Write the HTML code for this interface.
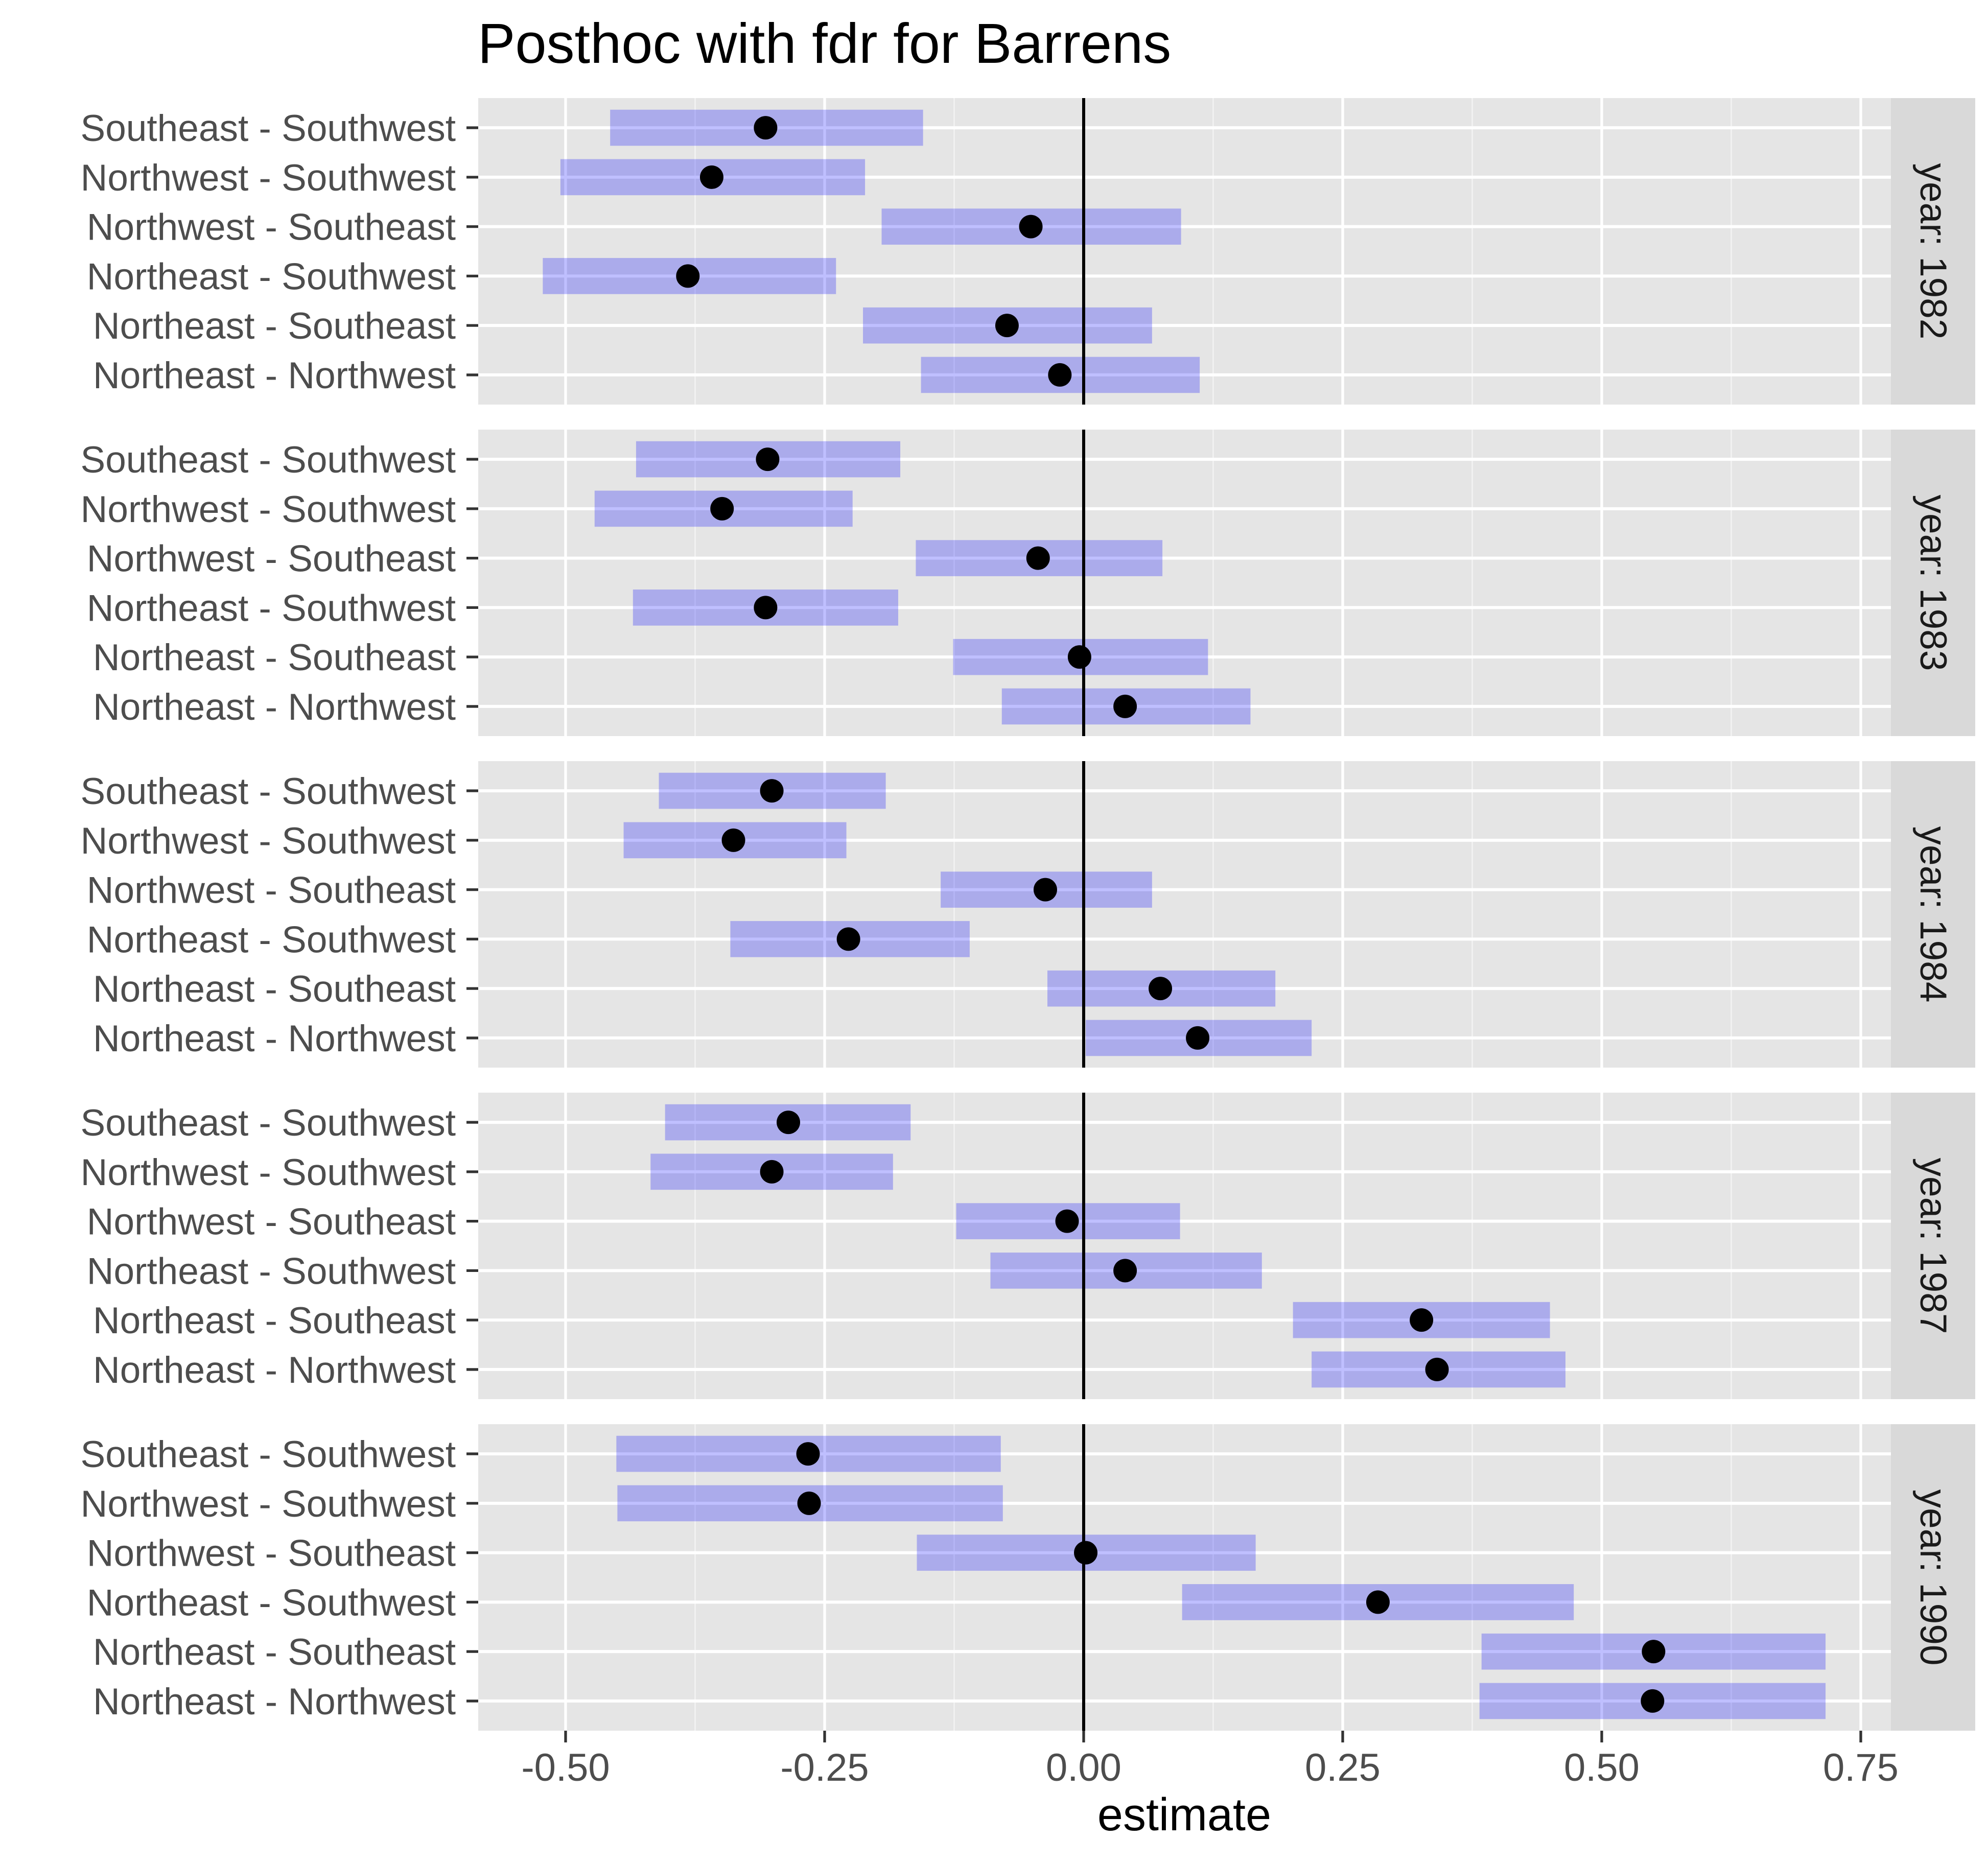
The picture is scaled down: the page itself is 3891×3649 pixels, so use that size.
<!DOCTYPE html>
<html><head><meta charset="utf-8"><style>
html,body{margin:0;padding:0;background:#fff}
svg{display:block;font-family:"Liberation Sans",Arial,sans-serif}
</style></head><body>
<svg id="chart" width="3891" height="3649" viewBox="0 0 3891 3649" xmlns="http://www.w3.org/2000/svg">
<rect width="3891" height="3649" fill="#fff"/>
<text x="935" y="123" font-size="110" fill="#000">Posthoc with fdr for Barrens</text>
<text x="2318" y="3583" font-size="90" fill="#000" text-anchor="middle">estimate</text>
</svg>
<script>
const years = ["1982","1983","1984","1987","1990"];
const comparisons = ["Southeast - Southwest","Northwest - Southwest","Northwest - Southeast","Northeast - Southwest","Northeast - Southeast","Northeast - Northwest"];
const est1982 = [-0.307,-0.359,-0.051,-0.382,-0.074,-0.023];
const lo1982 = [-0.457,-0.505,-0.195,-0.522,-0.213,-0.157];
const hi1982 = [-0.155,-0.211,0.094,-0.239,0.066,0.112];
const est1983 = [-0.305,-0.349,-0.044,-0.307,-0.004,0.040];
const lo1983 = [-0.432,-0.472,-0.162,-0.435,-0.126,-0.079];
const hi1983 = [-0.177,-0.223,0.076,-0.179,0.120,0.161];
const est1984 = [-0.301,-0.338,-0.037,-0.227,0.074,0.110];
const lo1984 = [-0.410,-0.444,-0.138,-0.341,-0.035,0.002];
const hi1984 = [-0.191,-0.229,0.066,-0.110,0.185,0.220];
const est1987 = [-0.285,-0.301,-0.016,0.040,0.326,0.341];
const lo1987 = [-0.404,-0.418,-0.123,-0.090,0.202,0.220];
const hi1987 = [-0.167,-0.184,0.093,0.172,0.450,0.465];
const est1990 = [-0.266,-0.265,0.002,0.284,0.550,0.549];
const lo1990 = [-0.451,-0.450,-0.161,0.095,0.384,0.382];
const hi1990 = [-0.080,-0.078,0.166,0.473,0.716,0.716];
const xTicks = [-0.5,-0.25,0,0.25,0.5,0.75];
const xTickLabels = ["-0.50","-0.25","0.00","0.25","0.50","0.75"];
const xMinor = [-0.375,-0.125,0.125,0.375,0.625];

const ests=[est1982,est1983,est1984,est1987,est1990];
const los=[lo1982,lo1983,lo1984,lo1987,lo1990];
const his=[hi1982,hi1983,hi1984,hi1987,hi1990];
const NS="http://www.w3.org/2000/svg";
const svg=document.getElementById('chart');
function mk(tag,attrs,parent){const e=document.createElementNS(NS,tag);for(const k in attrs)e.setAttribute(k,attrs[k]);(parent||svg).appendChild(e);return e;}
const PL=936,PR=3701,SR=3866;
const xScale=v=>2121+2028*v;
const panelTop=i=>192+i*649, PH=600;
const unit=PH/6.2;
const yRow=(i,r)=>panelTop(i)+(0.6+r)*unit;

years.forEach((yr,i)=>{
  const g=mk('g',{});
  
  
  const t=panelTop(i);
  const bg=mk('rect',{x:PL,y:t,width:PR-PL,height:PH,fill:'#e5e5e5'},g);
  
  
  xMinor.forEach(v=>{const l=mk('line',{x1:xScale(v),x2:xScale(v),y1:t,y2:t+PH,stroke:'#f2f2f2','stroke-width':2.7},g);
    
    });
  xTicks.forEach(v=>{const l=mk('line',{x1:xScale(v),x2:xScale(v),y1:t,y2:t+PH,stroke:'#fff','stroke-width':5.3},g);
    
    });
  comparisons.forEach((c,r)=>{
    const y=yRow(i,r);
    const l=mk('line',{x1:PL,x2:PR,y1:y,y2:y,stroke:'#fff','stroke-width':6},g);
    
    
    const tk=mk('line',{x1:913,x2:PL,y1:y,y2:y,stroke:'#333','stroke-width':5.3},g);
    
    
    const lab=mk('text',{x:892,y:y+26,'font-size':73,fill:'#4d4d4d','text-anchor':'end'},g);
    lab.textContent=c;
    
    
  });
  comparisons.forEach((c,r)=>{
    const y=yRow(i,r), hh=0.365*unit;
    const b=mk('rect',{x:xScale(los[i][r]),y:y-hh,width:xScale(his[i][r])-xScale(los[i][r]),height:2*hh,fill:'rgb(0,0,255)','fill-opacity':0.25},g);
    
    
  });
  const z=mk('line',{x1:xScale(0),x2:xScale(0),y1:t,y2:t+PH,stroke:'#000','stroke-width':6},g);
  
  
  comparisons.forEach((c,r)=>{
    const d=mk('circle',{cx:xScale(ests[i][r]),cy:yRow(i,r),r:23,fill:'#000'},g);
    
    
  });
  const s=mk('rect',{x:PR,y:t,width:SR-PR,height:PH,fill:'#d9d9d9'},g);
  
  
  const cx=(PR+SR)/2, cy=t+PH/2;
  const st=mk('text',{x:cx,y:cy,'font-size':73,fill:'#1a1a1a','text-anchor':'middle','dominant-baseline':'central',transform:`rotate(90 ${cx} ${cy})`},g);
  st.textContent='year: '+yr;
  
  
});
const bottom=panelTop(4)+PH;
xTicks.forEach((v,k)=>{
  const tk=mk('line',{x1:xScale(v),x2:xScale(v),y1:bottom,y2:bottom+23,stroke:'#333','stroke-width':5.3});
  
  
  const lab=mk('text',{x:xScale(v),y:bottom+98,'font-size':76,fill:'#4d4d4d','text-anchor':'middle'});
  lab.textContent=xTickLabels[k];
  
  
});
</script>
</body></html>
